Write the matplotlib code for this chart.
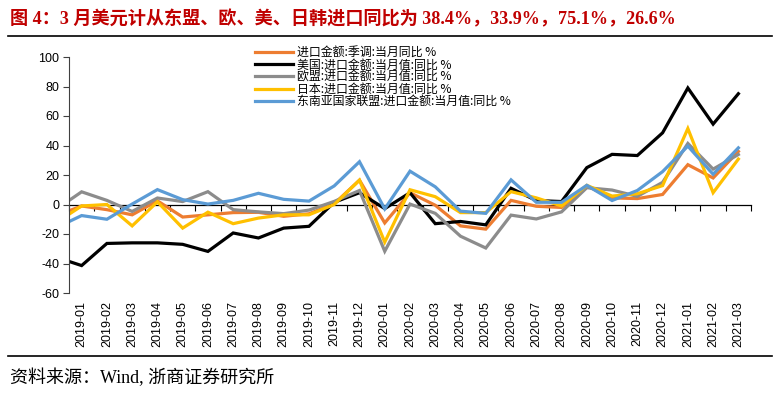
import numpy as np
import matplotlib
matplotlib.use("Agg")
import matplotlib.pyplot as plt

# ---------------- data ----------------
months = ["2018-12",
          "2019-01", "2019-02", "2019-03", "2019-04", "2019-05", "2019-06",
          "2019-07", "2019-08", "2019-09", "2019-10", "2019-11", "2019-12",
          "2020-01", "2020-02", "2020-03", "2020-04", "2020-05", "2020-06",
          "2020-07", "2020-08", "2020-09", "2020-10", "2020-11", "2020-12",
          "2021-01", "2021-02", "2021-03"]

total_sa = [-7.6, -1, -3.5, -7, 2.5, -8.5, -7, -5.5, -5.3, -8, -6.3, 0.5, 16.5,
            -12.5, 8, -0.5, -14.5, -16.7, 2.8, -1.2, -2, 12.5, 4.5, 4, 6.8,
            27, 18, 36]
usa = [-35.8, -41.4, -26.4, -26, -26, -27, -31.8, -19.3, -22.7, -16, -14.8, 1.5,
       8, -2.8, 8, -13, -11.5, -13.8, 11, 2.7, 2, 25, 34, 33.2, 48.6, 79,
       54.5, 75.1]
eu = [-3.2, 8.6, 2.8, -4.7, 4.4, 2, 8.7, -3.5, -5, -6.2, -3.8, 2.1, 9.5,
      -31.7, 0.3, -6, -21.5, -29.5, -7.2, -9.8, -5, 11.4, 9.8, 5.5, 15,
      41.4, 24, 33.9]
japan = [-12.2, -1, 0, -14.5, 1.8, -16, -5.2, -13, -9.2, -7, -7, 0, 16.5,
         -25.5, 10, 5.3, -5.5, -5.5, 8.7, 4.5, -1, 13, 5.7, 7.3, 12.8,
         51.5, 8, 30.8]
asean = [-15.7, -7.5, -10, 0.3, 10.1, 3.3, 0.3, 2.8, 7.6, 3.5, 2.3, 12.6, 29,
         -3, 22.6, 12, -4.5, -6, 16.7, 1.5, 1.5, 13, 2.7, 9.5, 22.3, 39.6,
         20.5, 38.4]

series_labels = ["进口金额:季调:当月同比 %",
                 "美国:进口金额:当月值:同比 %",
                 "欧盟:进口金额:当月值:同比 %",
                 "日本:进口金额:当月值:同比 %",
                 "东南亚国家联盟:进口金额:当月值:同比 %"]
series_values = [total_sa, usa, eu, japan, asean]
series_colors = ["#ED7D31", "#000000", "#8C8C8C", "#FFC000", "#5B9BD5"]

title = "图 4：3 月美元计从东盟、欧、美、日韩进口同比为 38.4%，33.9%，75.1%，26.6%"
source = "资料来源：Wind, 浙商证券研究所"

y_ticks = [-60, -40, -20, 0, 20, 40, 60, 80, 100]

# ---------------- figure ----------------
W, H = 781, 394
fig = plt.figure(figsize=(W / 100, H / 100), dpi=100)

serif_cjk = ["Liberation Serif", "Noto Sans CJK SC", "DejaVu Sans"]
sans_cjk = ["Noto Sans CJK SC", "DejaVu Sans"]

fig.text(10 / W, 1 - 19 / H, title, color="#C00000", fontsize=13.1,
         fontweight="bold", family=serif_cjk, ha="left", va="center")
fig.add_artist(plt.Line2D([8 / W, 772 / W], [1 - 36 / H, 1 - 36 / H],
                          color="black", lw=1.2, transform=fig.transFigure))
fig.add_artist(plt.Line2D([8 / W, 772 / W], [1 - 356 / H, 1 - 356 / H],
                          color="black", lw=1.2, transform=fig.transFigure))
fig.text(10 / W, 1 - 378 / H, source, color="black", fontsize=13,
         family=serif_cjk, ha="left", va="center")

left, right, top, bottom = 69, 751, 57, 293
ax = fig.add_axes([left / W, 1 - bottom / H, (right - left) / W, (bottom - top) / H])

x = np.arange(len(months))
lines = []
for vals, lab, col in zip(series_values, series_labels, series_colors):
    ln, = ax.plot(x, vals, color=col, lw=2.3, label=lab, solid_joinstyle="miter")
    lines.append(ln)

ax.set_xlim(0.5, len(months) - 0.5)
ax.set_ylim(-60, 100)
ax.set_yticks(y_ticks)
ax.set_yticklabels([str(v) for v in y_ticks], family=["Liberation Sans"], fontsize=9)
ax.tick_params(axis="y", direction="out", length=4, width=0.8, color="#404040", pad=3)

ax.set_xticks(x[1:])
ax.set_xticklabels(months[1:], rotation=90, family=["Liberation Sans"], fontsize=9)
ax.tick_params(axis="x", length=0, pad=6)

for s in ["top", "right", "bottom"]:
    ax.spines[s].set_visible(False)
ax.spines["left"].set_color("#404040")
ax.spines["left"].set_linewidth(0.8)

# category axis crossing at zero with boundary tick marks
sec = ax.secondary_xaxis(60 / 160)
sec.set_xticks(np.arange(0.5, len(months), 1.0))
sec.tick_params(axis="x", direction="out", length=4, width=0.8, labelbottom=False,
                color="black")
sec.spines["bottom"].set_color("black")
sec.spines["bottom"].set_linewidth(0.9)

fig.legend(handles=lines, loc="upper left",
           bbox_to_anchor=(255 / W, 1 - 46 / H), frameon=False,
           prop={"family": sans_cjk, "size": 8.6}, handlelength=3.2,
           handletextpad=0.35, labelspacing=-0.06, borderaxespad=0, borderpad=0)

fig.savefig("out.png", dpi=100)
